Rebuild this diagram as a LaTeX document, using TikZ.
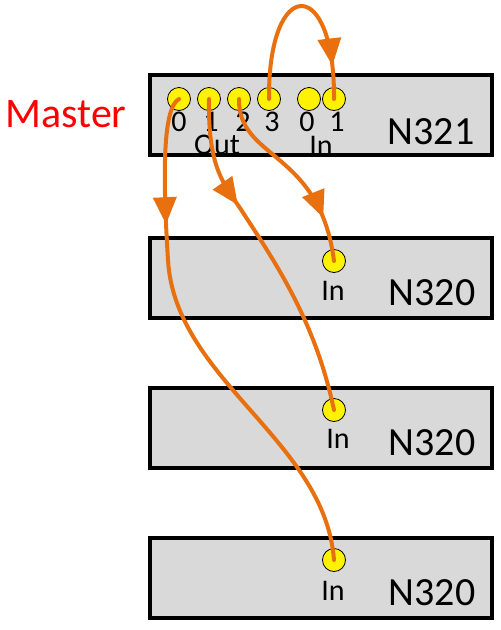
\documentclass[tikz,border=0pt]{standalone}
\usepackage{fontspec}
\setmainfont{Carlito}
\usetikzlibrary{arrows.meta,decorations.markings}
\definecolor{wire}{RGB}{232,112,14}
\definecolor{boxgray}{RGB}{217,217,217}

\begin{document}
\begin{tikzpicture}[x=1pt, y=-1pt,
    devbox/.style={draw=black, line width=3.5pt, fill=boxgray, minimum width=342pt, minimum height=80pt, inner sep=0pt},
    port/.style={circle, draw=black, line width=0.8pt, fill=yellow, minimum size=23pt, inner sep=0pt},
    lbl/.style={inner sep=0pt, font=\fontsize{30}{34}\selectfont},
    devname/.style={inner sep=0pt, font=\fontsize{40}{48}\selectfont},
    cable/.style={color=wire, line width=4pt, line cap=round, postaction={decorate},
        decoration={markings, mark=at position #1 with {\arrow{Triangle[length=27pt,width=23pt]}}}}]

    \useasboundingbox (0,0) rectangle (501,630);

    \node[devbox] (m) at (321,115) {};
    \node[devbox] (s1) at (321,278) {};
    \node[devbox] (s2) at (321,428) {};
    \node[devbox] (s3) at (321,578) {};

    \node[inner sep=0pt, text=red, font=\fontsize{42}{50}\selectfont] (ml) at (66,114) {Master};
    \node[devname] (mn) at (431,132) {N321};
    \node[devname] (n1) at (432,293) {N320};
    \node[devname] (n2) at (432,443) {N320};
    \node[devname] (n3) at (432,593) {N320};

    % master ports
    \foreach \i/\x in {0/179, 1/209, 2/239, 3/269}
        \node[port] (o\i) at (\x,99) {};
    \node[port] (i0) at (309,99) {};
    \node[port] (i1) at (334,99) {};
    \foreach \i/\x in {0/179, 1/211, 2/243, 3/272}
        \node[lbl] (d\i) at (\x,122) {\i};
    \node[lbl] (e0) at (307,122) {0};
    \node[lbl] (e1) at (337,122) {1};
    \node[lbl] (ol) at (217,145) {Out};
    \node[lbl] (il) at (321,146) {In};

    % slave ports
    \node[port] (p1) at (334,261) {};
    \node[port] (p2) at (334,410) {};
    \node[port] (p3) at (334,560) {};
    \node[lbl] (q1) at (333,291) {In};
    \node[lbl] (q2) at (338,439) {In};
    \node[lbl] (q3) at (333,591) {In};

    \draw[cable=0.84] (o3.center) .. controls (268,-25) and (335,-25) .. (i1.center);
    \draw[cable=0.25] (o0.center) .. controls (162,108) and (163,180) .. (168,260)
        .. controls (175,380) and (325,440) .. (p3.center);
    \draw[cable=0.33] (o1.center) .. controls (208,165) and (222,182) .. (240,208)
        .. controls (275,262) and (315,320) .. (p2.center);
    \draw[cable=0.77] (o2.center) .. controls (238,160) and (320,150) .. (p1.center);

\end{tikzpicture}
\end{document}
